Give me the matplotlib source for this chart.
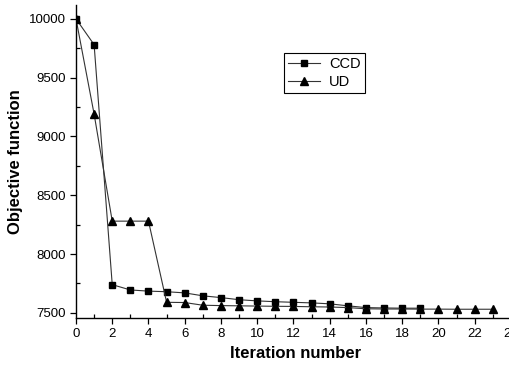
import matplotlib
matplotlib.use('Agg')
import matplotlib.pyplot as plt
from matplotlib.ticker import MultipleLocator

plt.rcParams['font.family'] = ['Liberation Sans', 'DejaVu Sans']

# data
ccd_x = list(range(0, 20))
ccd_y = [10000, 9780, 7740, 7695, 7685, 7680, 7670, 7645, 7630, 7612,
         7602, 7595, 7590, 7585, 7577, 7560, 7545, 7542, 7540, 7540]
ud_x = list(range(0, 24))
ud_y = [10000, 9190, 8280, 8280, 8280, 7590, 7588, 7565, 7562, 7560,
        7558, 7556, 7555, 7552, 7550, 7545, 7535, 7533, 7533, 7532,
        7532, 7531, 7531, 7531]

fig = plt.figure(figsize=(5.1, 3.71), dpi=100)
ax = fig.add_axes([0.149, 0.143, 0.86, 0.844])
LC = '#333333'
ax.plot(ccd_x, ccd_y, '-', color=LC, lw=0.8, marker='s', ms=4.5, mfc='black', mec='black', label='CCD')
ax.plot(ud_x, ud_y, '-', color=LC, lw=0.8, marker='^', ms=5.5, mfc='black', mec='black', label='UD')

ax.set_xlim(0, 24.2)
ax.set_ylim(7457, 10119)
ax.xaxis.set_major_locator(MultipleLocator(2))
ax.xaxis.set_minor_locator(MultipleLocator(1))
ax.yaxis.set_major_locator(MultipleLocator(500))
ax.yaxis.set_minor_locator(MultipleLocator(250))
ax.tick_params(which='major', direction='out', length=4, width=0.9, labelsize=9.5)
ax.tick_params(which='minor', direction='in', length=3, width=0.9)
for s in ['top', 'right']:
    ax.spines[s].set_visible(False)
for s in ['left', 'bottom']:
    ax.spines[s].set_linewidth(1.0)

ax.set_xlabel('Iteration number', fontsize=12, fontweight='bold')
ax.set_ylabel('Objective function', fontsize=12, fontweight='bold', labelpad=4)

leg = ax.legend(loc='upper left', bbox_to_anchor=(0.474, 0.847), borderaxespad=0,
                fontsize=10.5, fancybox=False, edgecolor='black', framealpha=1,
                handlelength=2.2, borderpad=0.3, labelspacing=0.25, handletextpad=0.6)
leg.get_frame().set_linewidth(0.8)

plt.savefig('out.png', dpi=100)
plt.close()
